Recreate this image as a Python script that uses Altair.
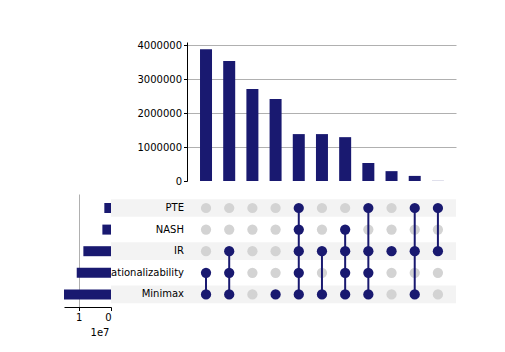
import altair as alt
import pandas as pd

sets = ["PTE", "NASH", "IR", "Rationalizability", "Minimax"]
counts = [3880000, 3530000, 2710000, 2410000, 1380000, 1380000, 1290000, 530000, 290000, 150000, 4000]
members = [
    ["Rationalizability", "Minimax"],
    ["IR", "Rationalizability", "Minimax"],
    [],
    ["Minimax"],
    ["PTE", "NASH", "IR", "Rationalizability", "Minimax"],
    ["IR", "Minimax"],
    ["NASH", "IR", "Rationalizability", "Minimax"],
    ["PTE", "IR", "Rationalizability", "Minimax"],
    ["IR"],
    ["PTE", "IR", "Minimax"],
    ["PTE", "IR"],
]
bar_ticks = [0, 1000000, 2000000, 3000000, 4000000]
total_ticks = [0, 10000000]

NAVY = "#191970"
GREY = "#d3d3d3"
STRIPE = "#f3f3f3"
GRID = "#b0b0b0"
FONT = "DejaVu Sans"

X_DOM = [-0.82, 10.78]
Y_DOM = [-0.648, 4.583]

# ---- data frames ----
bar_df = pd.DataFrame({"col": list(range(len(counts))), "count": counts})

dot_rows = []
for i, mem in enumerate(members):
    for j, s in enumerate(sets):
        dot_rows.append({"col": i, "idx": j, "set": s, "member": s in mem})
dot_df = pd.DataFrame(dot_rows)

line_rows = []
for i, mem in enumerate(members):
    if len(mem) >= 2:
        ids = [sets.index(s) for s in mem]
        line_rows.append({"col": i, "y1": min(ids), "y2": max(ids)})
line_df = pd.DataFrame(line_rows)

totals = [sum(c for c, m in zip(counts, members) if s in m) for s in sets]
tot_df = pd.DataFrame({"set": sets, "idx": list(range(len(sets))), "total": totals})

stripe_df = pd.DataFrame({
    "y0": [j - 0.41 for j in range(0, len(sets), 2)],
    "y1": [j + 0.41 for j in range(0, len(sets), 2)],
    "x0": [X_DOM[0]] * 3, "x1": [X_DOM[1]] * 3,
    "lx0": [0] * 3, "lx1": [1] * 3,
})
lab_df = pd.DataFrame({"set": sets, "idx": list(range(len(sets))), "one": [1] * len(sets)})

xs = alt.Scale(domain=X_DOM, nice=False, zero=False, padding=0)
ys = alt.Scale(domain=Y_DOM, nice=False, zero=False, reverse=True, padding=0)
ls = alt.Scale(domain=[0, 1], nice=False, zero=False, padding=0)

# ---- top intersection bars ----
bars = alt.Chart(bar_df).mark_bar(size=12, color=NAVY, orient="vertical").encode(
    x=alt.X("col:Q", scale=xs, axis=None),
    y=alt.Y("count:Q", scale=alt.Scale(domain=[0, 4090000], nice=False, padding=0),
            axis=alt.Axis(values=bar_ticks, format="d", title=None, grid=True,
                          gridColor={"condition": {"test": "datum.value === 0", "value": "transparent"}, "value": GRID},
                          gridWidth=1, labelPadding=2)),
).properties(width=269, height=139)

# ---- set totals ----
tot = alt.Chart(tot_df).mark_bar(size=10, color=NAVY, orient="horizontal").encode(
    x=alt.X("total:Q", scale=alt.Scale(domain=[0, max(totals)], reverse=True, nice=False, padding=0),
            axis=alt.Axis(values=total_ticks, labelExpr="format(datum.value / 10000000, 'd')",
                          title="1e7", titleX=45, titleY=25, titleAlign="right", titleBaseline="middle",
                          titleFontWeight="normal", grid=True,
                          gridColor={"condition": {"test": "datum.value === 0", "value": "transparent"}, "value": GRID},
                          labelPadding=2)),
    y=alt.Y("idx:Q", scale=ys, axis=None),
).properties(width=47, height=113)

# ---- labels panel ----
lab_stripes = alt.Chart(stripe_df).mark_rect(color=STRIPE).encode(
    x=alt.X("lx0:Q", scale=ls, axis=None), x2="lx1:Q",
    y=alt.Y("y0:Q", scale=ys, axis=None), y2="y1:Q",
)
lab_text = alt.Chart(lab_df).mark_text(align="right", baseline="middle", dx=-3, font=FONT,
                                       fontSize=10, color="black", clip=True).encode(
    x=alt.X("one:Q", scale=ls, axis=None),
    y=alt.Y("idx:Q", scale=ys, axis=None),
    text="set:N",
)
labels = alt.layer(lab_stripes, lab_text).properties(width=76, height=113)

# ---- matrix ----
mat_stripes = alt.Chart(stripe_df).mark_rect(color=STRIPE).encode(
    x=alt.X("x0:Q", scale=xs, axis=None), x2="x1:Q",
    y=alt.Y("y0:Q", scale=ys, axis=None), y2="y1:Q",
)
grey_dots = alt.Chart(dot_df).transform_filter("!datum.member").mark_circle(size=105, color=GREY, opacity=1).encode(
    x=alt.X("col:Q", scale=xs, axis=None),
    y=alt.Y("idx:Q", scale=ys, axis=None),
)
lines = alt.Chart(line_df).mark_rule(color=NAVY, strokeWidth=2).encode(
    x=alt.X("col:Q", scale=xs, axis=None),
    y=alt.Y("y1:Q", scale=ys, axis=None), y2="y2:Q",
)
dark_dots = alt.Chart(dot_df).transform_filter("datum.member").mark_circle(size=105, color=NAVY, opacity=1).encode(
    x=alt.X("col:Q", scale=xs, axis=None),
    y=alt.Y("idx:Q", scale=ys, axis=None),
)
matrix = alt.layer(mat_stripes, grey_dots, lines, dark_dots).properties(width=269, height=113)

# ---- spacers ----
sp_df = pd.DataFrame({"a": [0]})
def spacer(w):
    return alt.Chart(sp_df).mark_point(opacity=0).encode(
        x=alt.X("a:Q", axis=None), y=alt.Y("a:Q", axis=None)
    ).properties(width=w, height=139)

chart = alt.concat(
    spacer(47), spacer(76), bars, tot, labels, matrix,
    columns=3, spacing={"row": 13, "column": 0}, bounds="flush", align="each",
).properties(
    padding={"left": 63, "top": 39, "right": 5, "bottom": 5}
).configure_view(stroke="transparent").configure_axis(
    labelFont=FONT, labelFontSize=10, titleFont=FONT, titleFontSize=10,
    labelColor="black", titleColor="black", domainColor="black", tickColor="black",
    tickSize=3.5, domainWidth=1, tickWidth=1,
)

chart.save("out.html", embed_options={"renderer": "svg", "actions": False})
